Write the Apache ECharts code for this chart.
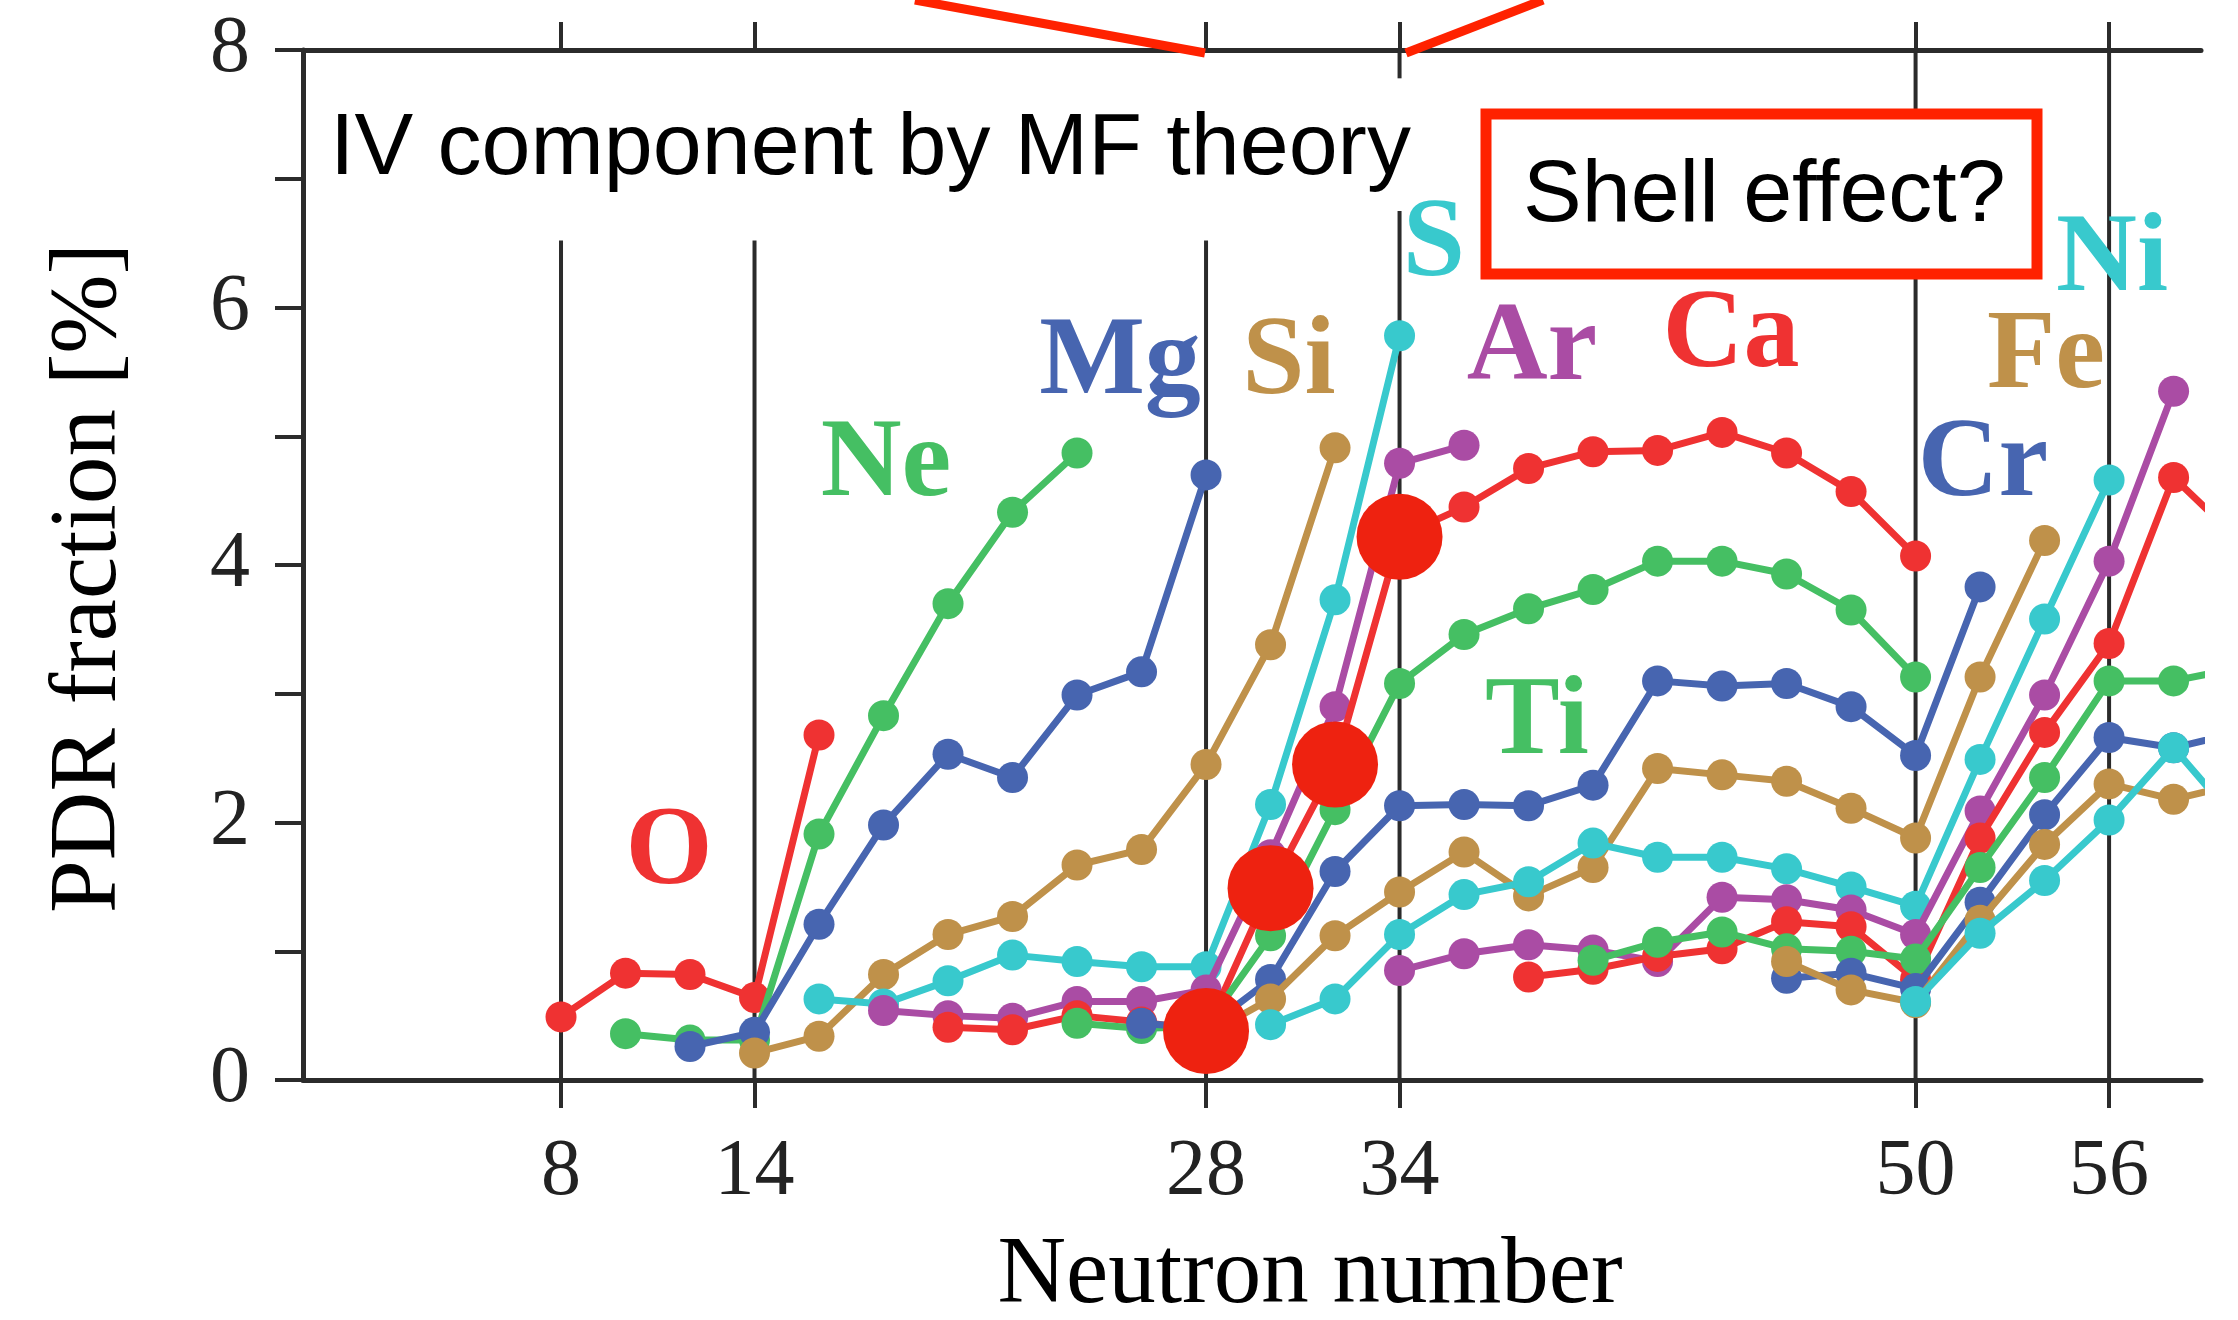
<!DOCTYPE html>
<html>
<head>
<meta charset="utf-8">
<script src="https://cdn.jsdelivr.net/npm/echarts@6/dist/echarts.min.js"></script>
<style>
  html, body { margin: 0; padding: 0; background: #fff; }
  #chart { width: 2238px; height: 1320px; }
</style>
</head>
<body>
<div id="chart"></div>
<script>
// PDR fraction [%] per isotope chain, [neutron number, value]
const O  = [[8,0.49],[10,0.83],[12,0.82],[14,0.64],[16,2.68]];
const Ne = [[10,0.36],[12,0.31],[14,0.31],[16,1.91],[18,2.83],[20,3.70],[22,4.41],[24,4.87]];
const Mg = [[12,0.26],[14,0.37],[16,1.21],[18,1.98],[20,2.53],[22,2.35],[24,2.99],[26,3.17],[28,4.70]];
const Si = [[14,0.21],[16,0.34],[18,0.82],[20,1.13],[22,1.27],[24,1.67],[26,1.79],[28,2.45],[30,3.38],[32,4.91]];
const S  = [[16,0.63],[18,0.59],[20,0.77],[22,0.97],[24,0.92],[26,0.88],[28,0.88],[30,2.14],[32,3.73],[34,5.78]];
const Ar = [[18,0.54],[20,0.50],[22,0.48],[24,0.61],[26,0.61],[28,0.70],[30,1.75],[32,2.90],[34,4.79],[36,4.93]];
const Ca = [[20,0.41],[22,0.39],[24,0.50],[26,0.45],[28,0.38],[30,1.49],[32,2.45],[34,4.22],[36,4.45],[38,4.75],[40,4.88],[42,4.89],[44,5.03],[46,4.87],[48,4.57],[50,4.07]];
const Ti = [[24,0.44],[26,0.40],[28,0.42],[30,1.12],[32,2.10],[34,3.08],[36,3.46],[38,3.66],[40,3.81],[42,4.03],[44,4.03],[46,3.93],[48,3.65],[50,3.13]];
const Cr = [[26,0.44],[28,0.40],[30,0.78],[32,1.62],[34,2.13],[36,2.14],[38,2.13],[40,2.29],[42,3.10],[44,3.06],[46,3.08],[48,2.90],[50,2.52],[52,3.83]];
const Fe = [[28,0.35],[30,0.63],[32,1.12],[34,1.46],[36,1.77],[38,1.43],[40,1.65],[42,2.42],[44,2.37],[46,2.32],[48,2.11],[50,1.88],[52,3.13],[54,4.19]];
const Ni = [[30,0.43],[32,0.63],[34,1.13],[36,1.44],[38,1.54],[40,1.84],[42,1.73],[44,1.73],[46,1.64],[48,1.50],[50,1.35],[52,2.49],[54,3.58],[56,4.66]];
const Zn = [[34,0.85],[36,0.98],[38,1.05],[40,1.01],[42,0.92],[44,1.42],[46,1.40],[48,1.32],[50,1.13],[52,2.09],[54,2.99],[56,4.03],[58,5.35]];
const Ge = [[38,0.80],[40,0.86],[42,0.96],[44,1.02],[46,1.23],[48,1.19],[50,0.78],[52,1.88],[54,2.70],[56,3.39],[58,4.68],[60,4.20]];
const Se = [[40,0.93],[42,1.07],[44,1.15],[46,1.02],[48,1.00],[50,0.94],[52,1.65],[54,2.35],[56,3.10],[58,3.10],[60,3.20]];
const Kr = [[46,0.79],[48,0.83],[50,0.71],[52,1.38],[54,2.06],[56,2.66],[58,2.58],[60,2.70]];
const Sr = [[46,0.92],[48,0.70],[50,0.60],[52,1.24],[54,1.83],[56,2.30],[58,2.18],[60,2.30]];
const Zr = [[50,0.61],[52,1.14],[54,1.55],[56,2.02],[58,2.58],[60,2.00]];

// highlighted Ca points (big red dots)
const hiN = [28, 30, 32, 34];
const hiV = [0.38, 1.49, 2.45, 4.22];

// magic numbers on the x axis
const magic = [8, 14, 28, 34, 50, 56];
const yLabels = [0, 2, 4, 6, 8];

const chains = [
  ['O', O], ['Ne', Ne], ['Mg', Mg], ['Si', Si], ['S', S], ['Ar', Ar],
  ['Ca', Ca], ['Ti', Ti], ['Cr', Cr], ['Fe', Fe], ['Ni', Ni], ['Zn', Zn],
  ['Ge', Ge], ['Se', Se], ['Kr', Kr], ['Sr', Sr], ['Zr', Zr]
];
// red, green, blue, tan, cyan, purple - cycles with Z
const palette = ['#EF3232', '#45BF63', '#4765B0', '#BF914A', '#38C9CD', '#AA4CA4'];

const ink = '#2b2b2b';
const serif = '"Liberation Serif", "DejaVu Serif", serif';
const sans = '"Liberation Sans", Arial, sans-serif';

const chart = echarts.init(document.getElementById('chart'));

const series = [];

// black guide lines at the magic numbers
const guideTop = { 8: 6.52, 14: 6.52, 28: 6.52, 34: 6.75, 50: 8, 56: 8 };
magic.forEach(n => {
  series.push({
    type: 'line', z: 1, silent: true, showSymbol: false, clip: false,
    data: [[n, 0], [n, guideTop[n]]],
    lineStyle: { color: ink, width: 4 }
  });
});
// short piece under the top axis at 34
series.push({
  type: 'line', z: 1, silent: true, showSymbol: false,
  data: [[34, 7.78], [34, 8]],
  lineStyle: { color: ink, width: 4 }
});

chains.forEach(([name, d], i) => {
  const c = palette[i % palette.length];
  series.push({
    name: name, type: 'line', z: 2 + i * 0.01,
    data: d,
    symbol: 'circle', symbolSize: 31,
    lineStyle: { color: c, width: 7 },
    itemStyle: { color: c },
    emphasis: { disabled: true }
  });
});

series.push({
  type: 'scatter', z: 20,
  data: hiN.map((n, i) => [n, hiV[i]]),
  symbolSize: 86,
  itemStyle: { color: '#EE2210', opacity: 1 },
  emphasis: { disabled: true }
});

const tickStyle = { show: true, length: 28, lineStyle: { color: ink, width: 4 } };

const option = {
  animation: false,
  backgroundColor: '#fff',
  grid: { left: 303, right: 37, top: 50, bottom: 240, containLabel: false, outerBoundsMode: 'none' },
  xAxis: [
    {
      type: 'value', position: 'bottom', min: 0, max: 58.85,
      axisLine: { show: true, lineStyle: { color: ink, width: 5 } },
      axisTick: Object.assign({ customValues: magic }, tickStyle),
      axisLabel: {
        customValues: magic, margin: 53,
        fontFamily: serif, fontSize: 80, color: '#222'
      },
      splitLine: { show: false },
      name: 'Neutron number', nameLocation: 'middle', nameGap: 150,
      nameTextStyle: { fontFamily: serif, fontSize: 95, color: '#000', padding: [0, 0, 0, 116] }
    },
    {
      type: 'value', position: 'top', min: 0, max: 58.85,
      axisLine: { show: true, lineStyle: { color: ink, width: 5 } },
      axisTick: Object.assign({ customValues: magic }, tickStyle),
      axisLabel: { show: false },
      splitLine: { show: false }
    }
  ],
  yAxis: {
    type: 'value', min: 0, max: 8, interval: 1,
    axisLine: { show: true, lineStyle: { color: ink, width: 5 } },
    axisTick: tickStyle,
    axisLabel: {
      customValues: yLabels, margin: 53,
      fontFamily: serif, fontSize: 80, color: '#222'
    },
    splitLine: { show: false },
    name: 'PDR fraction [%]', nameLocation: 'middle', nameGap: 165,
    nameTextStyle: { fontFamily: serif, fontSize: 95, color: '#000', padding: [0, 26, 0, 0] }
  },
  series: series
};

chart.setOption(option);

// element labels and annotations
const elemLabels = [
  ['O', 669, 854, 0], ['Ne', 886, 466, 1], ['Mg', 1120, 364, 2], ['Si', 1289, 364, 3],
  ['S', 1434, 246, 4], ['Ar', 1532, 350, 5], ['Ca', 1731, 337, 0], ['Ti', 1537, 724, 1],
  ['Cr', 1983, 466, 2], ['Fe', 2046, 358, 3], ['Ni', 2112, 261, 4]
];

const graphic = elemLabels.map(([t, x, y, ci]) => ({
  type: 'text', z: 10, silent: true,
  x: x, y: y,
  style: {
    text: t, fill: palette[ci],
    font: 'bold 112px ' + serif,
    textAlign: 'center', textVerticalAlign: 'middle'
  }
}));

graphic.push(
  {
    type: 'text', z: 10, silent: true, x: 330, y: 150,
    style: { text: 'IV component by MF theory', fill: '#000', font: '88px ' + sans, textAlign: 'left', textVerticalAlign: 'middle' }
  },
  {
    type: 'rect', z: 9, silent: true,
    shape: { x: 1486, y: 114, width: 551, height: 160 },
    style: { fill: '#fff', stroke: '#FF2200', lineWidth: 11 }
  },
  {
    type: 'text', z: 10, silent: true, x: 1523, y: 197,
    style: { text: 'Shell effect?', fill: '#000', font: '88px ' + sans, textAlign: 'left', textVerticalAlign: 'middle' }
  },
  {
    type: 'line', z: 10, silent: true,
    shape: { x1: 915, y1: 0, x2: 1205, y2: 53 },
    style: { stroke: '#FF2200', lineWidth: 9 }
  },
  {
    type: 'line', z: 10, silent: true,
    shape: { x1: 1406, y1: 53, x2: 1543, y2: 0 },
    style: { stroke: '#FF2200', lineWidth: 9 }
  }
);

chart.setOption({ graphic: graphic });
</script>
</body>
</html>
